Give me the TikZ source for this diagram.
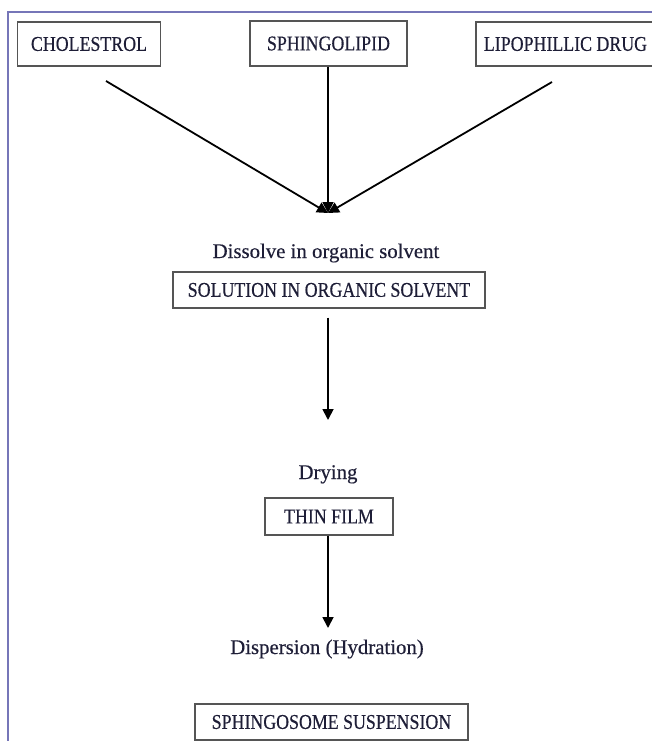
\documentclass[tikz,border=0pt]{standalone}
\usepackage{fontspec}
\setmainfont[FakeBold=0.4]{Liberation Serif}
\newfontfamily\boxfont[FakeStretch=0.85,FakeBold=0.4]{Liberation Serif}
\usepackage{tikz}
\usetikzlibrary{arrows.meta}

\definecolor{framecol}{RGB}{118,118,184}
\definecolor{boxcol}{RGB}{85,85,85}
\definecolor{txtcol}{RGB}{30,30,55}

\begin{document}
\begin{tikzpicture}[x=1pt,y=-1pt,
    stepbox/.style={draw=boxcol, line width=1.3pt, inner sep=0pt, text=txtcol,
        font=\boxfont\fontsize{21}{25}\selectfont},
    steplabel/.style={inner sep=0pt, anchor=base, text=txtcol,
        font=\fontsize{20.8}{25}\selectfont},
    arr/.style={line width=1.8pt, -{Triangle[length=11pt,width=11pt]}}]
    \clip (0,0) rectangle (652,741);

    % outer frame
    \draw[framecol, line width=2pt] (7.5,741) -- (7.5,12) -- (652,12);

    % starting materials
    \node[stepbox, minimum width=142.5pt, minimum height=44pt] (chol) at (89,44) {CHOLESTROL};
    \node[stepbox, minimum width=157pt, minimum height=45pt] (sphlip) at (328.5,43.5) {SPHINGOLIPID};
    \node[stepbox, minimum width=179pt, minimum height=44pt] (drug) at (565.5,44) {LIPOPHILLIC DRUG};

    % process steps
    \node[steplabel] (dissolve) at (326,258) {Dissolve in organic solvent};
    \node[stepbox, minimum width=312pt, minimum height=36pt] (solution) at (329,290) {SOLUTION IN ORGANIC SOLVENT};
    \node[steplabel] (drying) at (328,479) {Drying};
    \node[stepbox, minimum width=128pt, minimum height=37pt] (film) at (329,516.5) {THIN FILM};
    \node[steplabel] (hydration) at (327,654) {Dispersion (Hydration)};
    \node[stepbox, minimum width=273pt, minimum height=36pt] (suspension) at (331.5,722) {SPHINGOSOME SUSPENSION};

    % arrow ends
    \coordinate (meet) at (328,213);
    \coordinate (cholstart) at (106,81);
    \coordinate (drugstart) at (552,82);
    \coordinate (dryend) at (328,420);
    \coordinate (hydend) at (328,628);

    % connectors
    \draw[arr] (cholstart) -- (meet);
    \draw[arr] (sphlip.south -| meet) -- (meet);
    \draw[arr] (drugstart) -- (meet);
    \draw[arr, shorten <=9pt] (solution.south -| dryend) -- (dryend);
    \draw[arr] (film.south -| hydend) -- (hydend);
\end{tikzpicture}
\end{document}
